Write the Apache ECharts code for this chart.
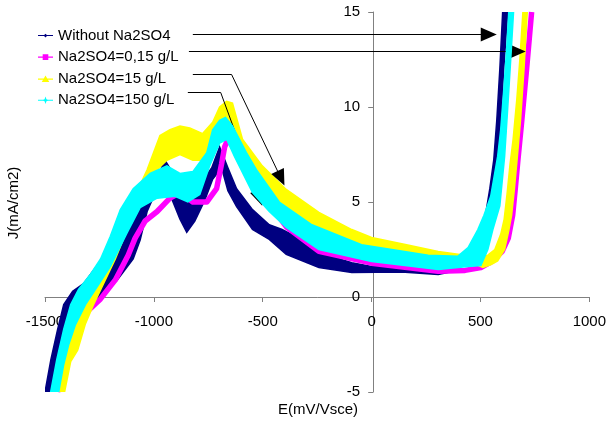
<!DOCTYPE html>
<html>
<head>
<meta charset="utf-8">
<script src="https://cdn.jsdelivr.net/npm/echarts/dist/echarts.min.js"></script>
<style>
  html, body { margin: 0; padding: 0; background: #fff; }
  #chart { width: 609px; height: 424px; }
</style>
</head>
<body>
<div id="chart"></div>
<script>
const FONT = '"Liberation Sans", Arial, sans-serif';

// tick values
const xTicks = [-1500, -1000, -500, 0, 500, 1000];
const yTicks = [-5, 0, 5, 10, 15];

// series names
const names = ['Without Na2SO4', 'Na2SO4=0,15 g/L', 'Na2SO4=15 g/L', 'Na2SO4=150 g/L'];
const colors = ['#000080', '#FF00FF', '#FFFF00', '#00FFFF'];

// Without Na2SO4: forward / return scan edges [E (mV), J (mA/cm2)]
const noSulfateFwd = [[-1500,-5],[-1473,-3.3],[-1442,-1.7],[-1414,-0.4],[-1373,0.3],[-1323,0.7],[-1245,1.9],[-1177,3.0],[-1109,4.3],[-1040,5.5],[-981,6.4],[-949,7.2],[-917,6.6],[-858,6.0],[-789,5.9],[-734,6.8],[-698,7.9],[-660,6.8],[-620,5.7],[-547,4.6],[-470,3.8],[-411,3.55],[-319,3.0],[-242,2.35],[-91,1.8],[0,1.6],[123,1.65],[306,1.6],[397,1.9],[443,2.4],[488,3.1],[520,4.1],[543,5.7],[561,7.2],[575,9.3],[589,12.0],[602,15]];
const noSulfateRev = [[-1464,-5],[-1442,-3.4],[-1419,-2.1],[-1391,-0.9],[-1337,-0.2],[-1255,-0.1],[-1168,0.9],[-1095,2.0],[-1063,3.0],[-1031,4.5],[-985,5.7],[-958,6.3],[-926,5.4],[-880,4.1],[-849,3.4],[-812,4.0],[-766,5.1],[-730,6.2],[-689,6.8],[-660,5.6],[-620,4.76],[-547,3.55],[-470,3.03],[-392,2.24],[-242,1.55],[-91,1.29],[137,1.32],[306,1.18],[397,1.4],[443,2.1],[488,2.8],[525,3.8],[557,5.4],[579,7.2],[593,9.3],[607,12.0],[625,15]];

// Na2SO4 = 0,15 g/L (narrow trace)
const sulfate015 = [[-1442,-5],[-1405,-2.8],[-1360,-1.4],[-1300,-0.7],[-1245,-0.1],[-1177,0.9],[-1118,2.2],[-1086,3.1],[-1040,4.0],[-985,4.5],[-926,5.2],[-880,5.5],[-821,5.0],[-757,5.0],[-712,5.7],[-689,7.0],[-675,7.9],[-660,8.3],[-630,7.8],[-584,6.9],[-547,6.0],[-470,4.9],[-430,4.3],[-392,3.7],[-242,2.4],[0,1.78],[306,1.35],[429,1.4],[502,1.55],[557,1.9],[600,2.4],[628,3.1],[648,4.3],[660,5.7],[672,7.2],[690,9.3],[712,12.0],[735,15]];

// Na2SO4 = 15 g/L
const sulfate15Fwd = [[-1442,-5],[-1414,-3.3],[-1382,-2.0],[-1346,-1.1],[-1300,-0.1],[-1245,1.2],[-1177,2.8],[-1109,4.6],[-1063,5.9],[-1031,6.7],[-972,8.5],[-926,8.8],[-880,9.0],[-835,8.9],[-776,8.6],[-730,9.2],[-698,10.0],[-666,10.3],[-639,10.2],[-593,8.3],[-502,6.9],[-392,5.66],[-242,4.45],[-91,3.55],[0,3.13],[155,2.76],[306,2.39],[397,2.25],[488,2.1],[534,2.2],[566,2.5],[593,3.3],[609,4.1],[622,5.4],[636,7.0],[650,8.3],[667,10.4],[681,12.5],[695,15]];
const sulfate15Rev = [[-1410,-5],[-1382,-3.4],[-1350,-2.8],[-1314,-1.4],[-1277,-0.4],[-1223,0.9],[-1177,2.0],[-1131,3.3],[-1086,4.5],[-1049,5.4],[-995,6.6],[-940,7.2],[-880,7.5],[-821,7.2],[-776,7.2],[-735,7.8],[-707,8.6],[-689,9.1],[-662,9.1],[-607,8.0],[-538,6.6],[-424,5.0],[-274,3.8],[-46,2.75],[260,2.2],[443,1.9],[511,1.55],[547,1.7],[579,1.9],[611,2.5],[630,3.5],[643,4.3],[656,5.7],[668,7.2],[684,9.3],[700,12.0],[715,15]];

// Na2SO4 = 150 g/L
const sulfate150Fwd = [[-1474,-5],[-1446,-3.3],[-1414,-1.7],[-1382,-0.4],[-1346,0.4],[-1291,1.2],[-1245,2.0],[-1200,3.2],[-1154,4.6],[-1095,5.7],[-1017,6.5],[-940,6.9],[-880,6.5],[-821,6.6],[-757,7.6],[-730,8.8],[-698,9.3],[-671,9.45],[-639,9.0],[-575,7.6],[-529,6.7],[-424,5.0],[-274,3.8],[-46,2.75],[260,2.2],[397,2.15],[443,2.6],[488,3.55],[516,4.3],[547,5.3],[579,7.4],[593,8.8],[607,10.9],[620,13.0],[630,15]];
const sulfate150Rev = [[-1437,-5],[-1414,-3.55],[-1391,-2.5],[-1360,-1.45],[-1314,-0.4],[-1268,0.4],[-1200,1.6],[-1122,3.4],[-1063,4.7],[-985,5.2],[-903,5.3],[-844,5.0],[-789,5.4],[-744,6.9],[-698,8.1],[-666,8.3],[-630,7.4],[-547,5.5],[-470,4.5],[-392,3.66],[-242,2.5],[0,1.87],[306,1.45],[443,1.6],[502,1.65],[534,2.5],[557,3.55],[589,4.8],[611,7.4],[625,9.9],[639,12.5],[652,15]];

// annotation arrows from the legend to the curves, in data units
const arrowLines = [
  [[-821, 13.82], [538, 13.82], true],
  [[-839, 12.92], [671, 12.92], true],
  [[-821, 11.71], [-643, 11.71], false],
  [[-643, 11.71], [-416, 6.25], true],
  [[-844, 10.76], [-693, 10.76], false],
  [[-693, 10.76], [-515, 5.2], true]
];

const icons = [
  'path://M0,4.4H16V5.6H0Z M8,3L10,5L8,7L6,5Z',
  'path://M0,4.4H16V5.6H0Z M5,2H11V8H5Z',
  'path://M0,4.4H16V5.6H0Z M8,1L12,8H4Z',
  'path://M0,4.4H16V5.6H0Z M8,1L9,4L12,5L9,6L8,9L7,6L4,5L7,4Z'
];

function band(name, color, fwd, rev, z) {
  const outline = fwd.concat(rev.slice().reverse());
  return {
    name: name,
    type: 'custom',
    coordinateSystem: 'cartesian2d',
    z: z,
    itemStyle: { color: color },
    data: outline,
    encode: { x: 0, y: 1 },
    clip: true,
    silent: true,
    renderItem: function (params, api) {
      if (params.dataIndex !== 0) return null;
      const pts = outline.map(function (p) { return api.coord(p); });
      return {
        type: 'polygon',
        shape: { points: pts },
        style: { fill: color, stroke: color, lineWidth: 1.5 }
      };
    }
  };
}

const gridBox = { left: 45, right: 17, top: 12, bottom: 32 };
const plotW = 609 - gridBox.left - gridBox.right;
const plotH = 424 - gridBox.top - gridBox.bottom;
const xMin = xTicks[0], xMax = xTicks[xTicks.length - 1];
const yMin = yTicks[0], yMax = yTicks[yTicks.length - 1];
// axes cross at zero
const xAxisOffset = -plotH * (0 - yMin) / (yMax - yMin);
const yAxisOffset = -plotW * (0 - xMin) / (xMax - xMin);

const myChart = echarts.init(document.getElementById('chart'));

const markData = arrowLines.map(function (a) {
  return [
    { coord: a[0], symbol: 'none' },
    { coord: a[1], symbol: a[2] ? 'triangle' : 'none' }
  ];
});

const option = {
  animation: false,
  backgroundColor: '#fff',
  grid: gridBox,
  legend: {
    orient: 'vertical',
    left: 33,
    top: 23,
    itemWidth: 15,
    itemHeight: 9,
    itemGap: 6.6,
    selectedMode: false,
    textStyle: { fontSize: 15, color: '#000', fontFamily: FONT },
    data: names.map(function (n, i) {
      return { name: n, icon: icons[i], itemStyle: { color: colors[i] } };
    })
  },
  xAxis: {
    type: 'value',
    position: 'bottom',
    offset: xAxisOffset,
    min: xMin,
    max: xMax,
    interval: 500,
    axisLine: { onZero: false, lineStyle: { color: '#808080', width: 1 } },
    axisTick: { show: true, length: 5, lineStyle: { color: '#808080' } },
    splitLine: { show: false },
    axisLabel: {
      color: '#000', fontSize: 15, fontFamily: FONT, margin: 17,
      formatter: function (v) { return String(v); }
    }
  },
  yAxis: {
    type: 'value',
    position: 'left',
    offset: yAxisOffset,
    min: yMin,
    max: yMax,
    interval: 5,
    axisLine: { show: true, onZero: false, lineStyle: { color: '#808080', width: 1 } },
    axisTick: { show: true, length: 5, lineStyle: { color: '#808080' } },
    splitLine: { show: false },
    axisLabel: {
      color: '#000', fontSize: 15, fontFamily: FONT, margin: 13,
      formatter: function (v) { return String(v); }
    }
  },
  graphic: [
    {
      type: 'text', x: 14, y: 203, rotation: Math.PI / 2,
      style: { text: 'J(mA/cm2)', font: '15px ' + FONT, fill: '#000', align: 'center', verticalAlign: 'middle' }
    },
    {
      type: 'text', x: 318, y: 410,
      style: { text: 'E(mV/Vsce)', font: '15px ' + FONT, fill: '#000', align: 'center', verticalAlign: 'middle' }
    }
  ],
  series: [
    band(names[0], colors[0], noSulfateFwd, noSulfateRev, 2),
    {
      name: names[1],
      type: 'line',
      z: 3,
      data: sulfate015,
      showSymbol: false,
      symbol: 'none',
      silent: true,
      itemStyle: { color: colors[1] },
      lineStyle: { color: colors[1], width: 5.5, join: 'round' }
    },
    band(names[2], colors[2], sulfate15Fwd, sulfate15Rev, 4),
    band(names[3], colors[3], sulfate150Fwd, sulfate150Rev, 5),
    {
      name: 'arrows',
      type: 'line',
      z: 6,
      data: [],
      silent: true,
      markLine: {
        silent: true,
        animation: false,
        symbolSize: [14, 16],
        label: { show: false },
        lineStyle: { color: '#000', width: 1, type: 'solid' },
        emphasis: { disabled: true },
        data: markData
      }
    }
  ]
};

myChart.setOption(option);
</script>
</body>
</html>
